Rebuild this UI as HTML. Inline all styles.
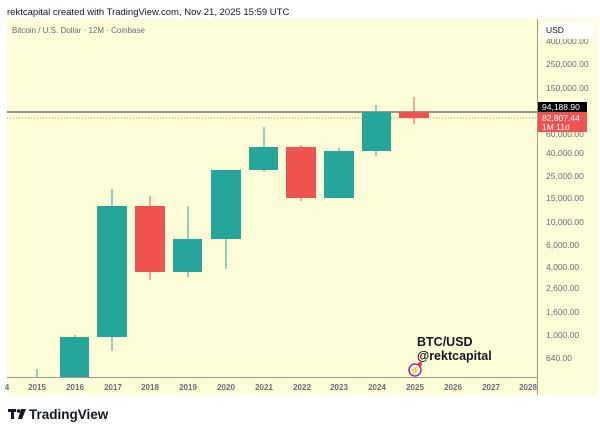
<!DOCTYPE html>
<html><head><meta charset="utf-8"><style>
body{margin:0;background:#fff;width:600px;height:435px;overflow:hidden;font-family:"Liberation Sans",sans-serif}
</style></head><body>
<svg width="600" height="435" xmlns="http://www.w3.org/2000/svg" font-family="Liberation Sans, sans-serif">
<rect width="600" height="435" fill="#fff"/>
<text x="7" y="15" font-size="9.5" fill="#131722">rektcapital created with TradingView.com, Nov 21, 2025 15:59 UTC</text>
<rect x="7" y="19" width="590" height="376" fill="#fdfdd8"/>
<text x="12" y="33" font-size="8" fill="#6a6d78">Bitcoin / U.S. Dollar · 12M · Coinbase</text>
<line x1="537.5" y1="19" x2="537.5" y2="395" stroke="#9a9a8a" stroke-width="1"/>
<line x1="7" y1="377.5" x2="537" y2="377.5" stroke="#9a9a8a" stroke-width="1"/>
<g font-size="8.5" fill="#6a6d78">
<text x="546" y="44">400,000.00</text>
<text x="546" y="67">250,000.00</text>
<text x="546" y="91">150,000.00</text>
<text x="546" y="137">60,000.00</text>
<text x="546" y="156">40,000.00</text>
<text x="546" y="179">25,000.00</text>
<text x="546" y="201">15,000.00</text>
<text x="546" y="225">10,000.00</text>
<text x="546" y="248">6,000.00</text>
<text x="546" y="270">4,000.00</text>
<text x="546" y="291">2,600.00</text>
<text x="546" y="315">1,600.00</text>
<text x="546" y="338">1,000.00</text>
<text x="546" y="361">640.00</text>
</g>
<rect x="541" y="22" width="53" height="17" rx="3" fill="#fff"/>
<text x="546" y="33" font-size="8.5" fill="#131722">USD</text>
<g font-size="8" fill="#6a6d78" font-weight="bold" text-anchor="middle">
<text x="7" y="390">4</text>
<text x="37" y="390">2015</text><text x="75" y="390">2016</text><text x="113" y="390">2017</text><text x="150" y="390">2018</text><text x="188" y="390">2019</text><text x="226" y="390">2020</text><text x="264" y="390">2021</text><text x="302" y="390">2022</text><text x="339" y="390">2023</text><text x="377" y="390">2024</text><text x="415" y="390">2025</text><text x="453" y="390">2026</text><text x="491" y="390">2027</text><text x="528" y="390">2028</text>
</g>
<line x1="7" y1="112" x2="537" y2="112" stroke="#333" stroke-width="1"/>
<line x1="7" y1="118" x2="537" y2="118" stroke="#ef5350" stroke-width="0.8" stroke-dasharray="1,2"/>
<g stroke="#26a69a" stroke-width="1">
<line x1="37" y1="369" x2="37" y2="377"/>
<line x1="75" y1="335" x2="75" y2="377"/>
<line x1="112" y1="189" x2="112" y2="351"/>
<line x1="188" y1="206" x2="188" y2="277"/>
<line x1="226" y1="170" x2="226" y2="269"/>
<line x1="264" y1="127" x2="264" y2="172"/>
<line x1="339" y1="148" x2="339" y2="198"/>
<line x1="376" y1="105" x2="376" y2="156"/>
</g>
<g stroke="#ef5350" stroke-width="1">
<line x1="150" y1="196" x2="150" y2="280"/>
<line x1="301" y1="145" x2="301" y2="201"/>
<line x1="414" y1="97" x2="414" y2="124"/>
</g>
<g fill="#26a69a">
<rect x="60" y="337" width="29" height="40"/>
<rect x="97" y="206" width="30" height="131"/>
<rect x="173" y="239" width="29" height="33"/>
<rect x="211" y="170" width="30" height="69"/>
<rect x="249" y="147" width="29" height="23"/>
<rect x="324" y="151" width="30" height="47"/>
<rect x="362" y="112" width="29" height="39"/>
</g>
<g fill="#ef5350">
<rect x="135" y="206" width="30" height="66"/>
<rect x="286" y="147" width="30" height="51"/>
<rect x="399" y="112" width="30" height="6"/>
</g>
<rect x="538" y="102" width="49" height="10" fill="#000"/>
<text x="542" y="110" font-size="8.5" fill="#fff">94,188.90</text>
<rect x="538" y="112" width="49" height="20" fill="#ef5350"/>
<text x="542" y="121" font-size="8.5" fill="#fff">82,807.44</text>
<text x="542" y="130" font-size="8.5" fill="#fff">1M 11d</text>
<text x="417" y="346" font-size="12.5" font-weight="bold" fill="#131722">BTC/USD</text>
<text x="417" y="360" font-size="12.5" font-weight="bold" fill="#131722">@rektcapital</text>
<circle cx="415" cy="370" r="6" fill="none" stroke="#9c27b0" stroke-width="1.5"/>
<text x="415" y="373" font-size="8" fill="#9c27b0" text-anchor="middle">⚡</text>
<circle cx="420" cy="364" r="2" fill="#f23645"/>
<g fill="#131722">
<rect x="8" y="409" width="8" height="3"/><rect x="11" y="409" width="3" height="10"/>
<circle cx="18.5" cy="411" r="1.8"/>
<polygon points="21,409 26,409 22,419 18,419"/>
</g>
<text x="29" y="419" font-size="13.5" font-weight="bold" fill="#131722">TradingView</text>
</svg>
</body></html>
